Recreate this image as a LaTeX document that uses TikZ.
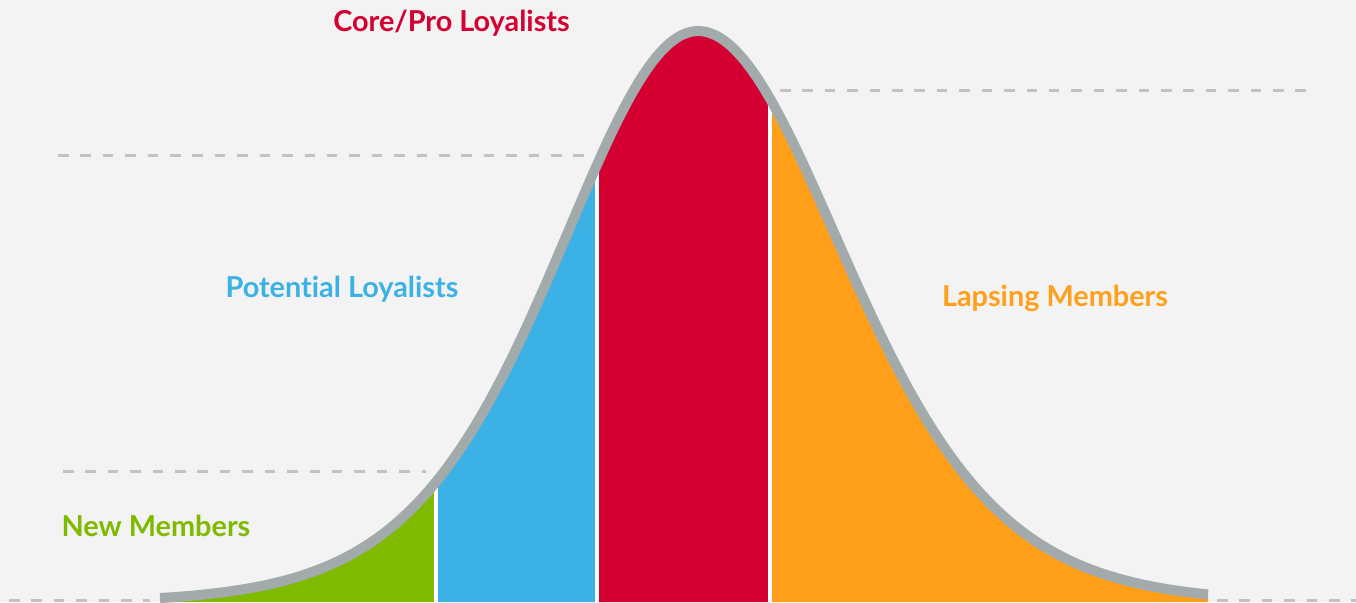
\documentclass[tikz,border=0pt]{standalone}
\usepackage{fontspec}
\newfontfamily\tagfont{Lato}[Ligatures=NoCommon]
\definecolor{paper}{HTML}{F3F3F3}
\definecolor{guidegray}{HTML}{C3C3BE}
\definecolor{curvegray}{HTML}{A3AAAB}
\definecolor{newgreen}{HTML}{7FBA00}
\definecolor{potblue}{HTML}{3BB1E5}
\definecolor{corered}{HTML}{D30031}
\definecolor{lapsorange}{HTML}{FF9F1A}
\begin{document}
\begin{tikzpicture}
[
  x=0.01cm, y=0.01cm,
  declare function={
    uu(\x)=(\x-698)/ifthenelse(\x<698,232,250);
    bell(\x)=572*exp(-ifthenelse(\x<698,2.9,3.08)*ln((exp(uu(\x))+exp(-uu(\x)))/2))-1;},
  guide/.style = {draw=guidegray, line width=0.3mm, dash pattern=on 1.05mm off 1.19mm},
  divider/.style = {draw=white, line width=0.3mm},
  tag/.style = {anchor=base, font=\tagfont\bfseries\fontsize{8.2}{10}\selectfont, text=#1},
]
\def\xa{160}
\def\xb{436}
\def\xc{597}
\def\xd{770}
\def\xe{1208}

%background
\fill[paper] (0,0) rectangle (1356,602);
\useasboundingbox (0,0) rectangle (1356,602);

%dashed guides
\draw[guide] (58,447) -- (585,447);
\draw[guide] (780,512) -- (1308,512);
\draw[guide] (63,131) -- (426,131);
\draw[guide] (9,2) -- (150,2);
\draw[guide] (1217,2) -- (1356,2);

%areas under the bell
\fill[newgreen] (\xa,0) -- plot[domain=\xa:\xb, samples=60] (\x,{bell(\x)}) -- (\xb,0) -- cycle;
\fill[potblue] (\xb,0) -- plot[domain=\xb:\xc, samples=60] (\x,{bell(\x)}) -- (\xc,0) -- cycle;
\fill[corered] (\xc,0) -- plot[domain=\xc:\xd, samples=60] (\x,{bell(\x)}) -- (\xd,0) -- cycle;
\fill[lapsorange] (\xd,0) -- plot[domain=\xd:\xe, samples=80] (\x,{bell(\x)}) -- (\xe,0) -- cycle;

%white lines between the areas
\draw[divider] (\xb,0) -- (\xb,{bell(\xb)});
\draw[divider] (\xc,0) -- (\xc,{bell(\xc)});
\draw[divider] (\xd,0) -- (\xd,{bell(\xd)});

%the curve
\draw[curvegray, line width=1mm] plot[domain=\xa:\xe, samples=250] (\x,{bell(\x)});

\node[tag=corered] (core) at (451.5,571) {Core/Pro Loyalists};
\node[tag=potblue] (potential) at (342,305) {Potential Loyalists};
\node[tag=lapsorange] (lapsing) at (1055,296) {Lapsing Members};
\node[tag=newgreen] (new) at (156,66) {New Members};
\end{tikzpicture}
\end{document}
